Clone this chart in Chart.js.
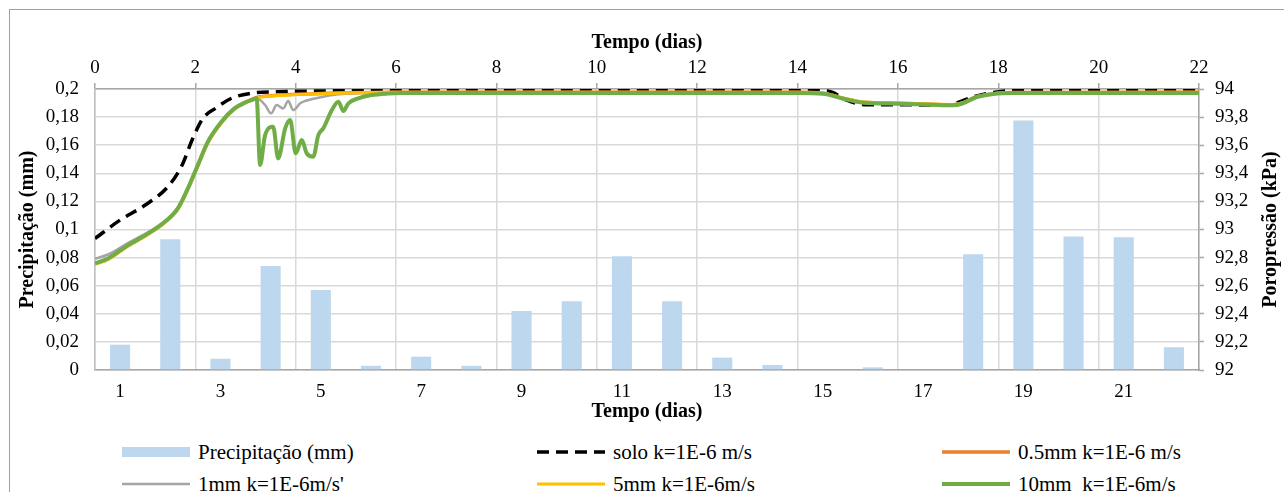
<!DOCTYPE html>
<html><head><meta charset="utf-8">
<script src="https://cdn.jsdelivr.net/npm/chart.js@4.4.1/dist/chart.umd.min.js"></script>
<style>
html,body{margin:0;padding:0;background:#fff;width:1284px;height:492px;overflow:hidden;font-family:"Liberation Serif","Times New Roman",serif;}
#frame{position:absolute;left:9px;top:9px;width:1300px;height:520px;border-left:1.5px solid #a0a0a0;border-top:1.5px solid #a0a0a0;}
#c{position:absolute;left:0;top:0;}
.leg{position:absolute;display:flex;align-items:center;height:24px;font-size:21px;color:#000;white-space:pre;line-height:24px;}
.leg svg{margin-right:8px;}
</style></head><body>
<div id="frame"></div>
<canvas id="c" width="1284" height="430"></canvas>
<div id="legend"></div>
<script>
// ---- data ----
const dias = ['1','2','3','4','5','6','7','8','9','10','11','12','13','14','15','16','17','18','19','20','21','22'];
const precipitacao = [0.018,0.093,0.008,0.074,0.057,0.003,0.0095,0.003,0.042,0.049,0.081,0.049,0.0088,0.0036,0,0.0019,0,0.0823,0.1775,0.095,0.0944,0.0162];

const soloT = [0,0.5,1.0,1.45,1.72,1.95,2.15,2.4,2.72,3.1,3.6,4.5,6,10,14,14.6,14.98,15.2,15.41,16,16.6,17.0,17.24,17.45,17.67,17.9,18.17,19,22];
const soloP = [92.936,93.067,93.174,93.304,93.447,93.649,93.791,93.862,93.934,93.969,93.98,93.986,93.99,93.99,93.99,93.985,93.92,93.895,93.888,93.888,93.886,93.886,93.91,93.938,93.959,93.975,93.986,93.99,93.99];

const m05T = [0,0.26,0.66,1.06,1.39,1.65,1.85,2.05,2.25,2.52,2.78,3.0,3.15,3.22,3.5,4,4.5,5,6,10,14,14.51,14.91,15.31,15.98,16.64,17.1,17.27,17.57,17.9,18.3,22];
const m05P = [92.755,92.79,92.886,92.97,93.053,93.148,93.29,93.457,93.623,93.765,93.862,93.907,93.93,93.94,93.952,93.962,93.968,93.973,93.977,93.977,93.977,93.97,93.934,93.906,93.899,93.892,93.888,93.899,93.945,93.967,93.975,93.977];

const m1T = [0,0.26,0.66,1.06,1.39,1.65,1.85,2.05,2.25,2.52,2.78,3.0,3.15,3.22,3.39,3.51,3.62,3.75,3.85,3.95,4.09,4.18,4.45,4.85,5.3,6,10,14,14.51,14.91,15.31,15.98,16.64,17.1,17.27,17.57,17.9,18.3,22];
const m1P = [92.792,92.822,92.905,92.982,93.058,93.15,93.292,93.459,93.625,93.767,93.862,93.905,93.925,93.934,93.886,93.827,93.886,93.862,93.914,93.85,93.898,93.914,93.938,93.962,93.972,93.976,93.976,93.976,93.968,93.932,93.903,93.896,93.889,93.885,93.896,93.944,93.966,93.974,93.976];

const m5T = [0,0.26,0.66,1.06,1.39,1.65,1.85,2.05,2.25,2.52,2.78,3.0,3.15,3.22,3.5,4,4.5,5,6,10,14,14.51,14.91,15.31,15.98,16.64,17.1,17.27,17.57,17.9,18.3,22];
const m5P = [92.752,92.787,92.882,92.965,93.047,93.142,93.283,93.45,93.615,93.758,93.856,93.903,93.927,93.937,93.95,93.96,93.967,93.972,93.976,93.976,93.976,93.97,93.936,93.908,93.901,93.894,93.89,93.9,93.946,93.967,93.975,93.976];

const m10T = [0,0.26,0.66,1.06,1.39,1.65,1.85,2.05,2.25,2.52,2.78,3.0,3.15,3.22,3.29,3.39,3.55,3.65,3.79,3.89,4.0,4.12,4.22,4.35,4.45,4.55,4.72,4.85,4.95,5.05,5.25,5.51,5.85,6.1,7,10,14,14.51,14.91,15.31,15.98,16.64,17.1,17.27,17.57,17.9,18.3,19,22];
const m10P = [92.758,92.794,92.889,92.972,93.055,93.15,93.292,93.459,93.625,93.767,93.862,93.905,93.925,93.934,93.459,93.672,93.732,93.506,93.72,93.779,93.542,93.637,93.542,93.518,93.672,93.72,93.85,93.91,93.843,93.898,93.934,93.957,93.968,93.971,93.972,93.972,93.972,93.967,93.931,93.902,93.895,93.888,93.884,93.895,93.943,93.965,93.972,93.972,93.972];

const seriesNames = ['Precipitação (mm)','solo k=1E-6 m/s','0.5mm k=1E-6 m/s',"1mm k=1E-6m/s'",'5mm k=1E-6m/s','10mm  k=1E-6m/s'];

// ---- chart ----
const pts = (T,P) => T.map((t,i)=>({x:t,y:P[i]}));
const FAM = '"Liberation Serif","Times New Roman",serif';
const titleFont = {family:FAM, size:20, weight:'bold'};
const tickFont = {family:FAM, size:19};
const fmt = v => String(parseFloat(Number(v).toFixed(3))).replace('.', ',');

function lineDs(label, T, P, color, width, order, dash){
  return {type:'line', label, data:pts(T,P), xAxisID:'xt', yAxisID:'yr', borderColor:color, backgroundColor:color,
    borderWidth:width, pointRadius:0, cubicInterpolationMode:'monotone', borderDash:dash||[], borderCapStyle:'butt', order, fill:false};
}

const rightTitle = {
  id:'rightTitle',
  afterDraw(chart){
    const s = chart.scales.yr; const t = s.options.title; const ctx = chart.ctx;
    ctx.save();
    ctx.translate(s.right - 13, (s.top + s.bottom)/2);
    ctx.rotate(-Math.PI/2);
    ctx.font = 'bold 20px ' + FAM;
    ctx.fillStyle = '#000'; ctx.textAlign = 'center'; ctx.textBaseline = 'middle';
    ctx.fillText(t.text, 0, 0);
    ctx.restore();
  }
};

const chart = new Chart(document.getElementById('c'), {
  type:'bar',
  data:{
    labels: dias,
    datasets:[
      {type:'bar', label:seriesNames[0], data:precipitacao, xAxisID:'xb', yAxisID:'yl', backgroundColor:'#bdd7ee', borderWidth:0, barPercentage:0.4, categoryPercentage:1.0, grouped:false, order:6},
      lineDs(seriesNames[1], soloT, soloP, '#000000', 3.5, 5, [12,7]),
      lineDs(seriesNames[2], m05T, m05P, '#ed7d31', 3.5, 4),
      lineDs(seriesNames[3], m1T, m1P, '#a5a5a5', 2.5, 3),
      lineDs(seriesNames[4], m5T, m5P, '#ffc000', 3, 2),
      lineDs(seriesNames[5], m10T, m10P, '#70ad47', 4, 1)
    ]
  },
  options:{
    responsive:false, animation:false,
    layout:{padding:0},
    plugins:{legend:{display:false}, tooltip:{enabled:false}},
    scales:{
      xt:{type:'linear', position:'top', min:0, max:22, offset:false,
        ticks:{stepSize:2, font:tickFont, color:'#000', padding:4, maxRotation:0, callback:v=>String(v)},
        grid:{offset:false, color:'#d9d9d9', lineWidth:1.5, tickLength:6, tickColor:'#a6a6a6', tickWidth:1.5},
        border:{display:true, color:'#a6a6a6', width:1.5},
        title:{display:true, text:'Tempo (dias)', font:titleFont, color:'#000', padding:{top:31,bottom:0}},
        afterFit:s=>{s.height=89;}},
      xb:{type:'category', position:'bottom', offset:true,
        grid:{display:false, drawTicks:false},
        border:{display:true, color:'#a6a6a6', width:1.5},
        ticks:{autoSkip:false, maxRotation:0, font:tickFont, color:'#000', padding:11, callback:(v,i)=> i%2===0 ? dias[i] : ''},
        title:{display:true, text:'Tempo (dias)', font:titleFont, color:'#000', padding:{top:0,bottom:6}},
        afterFit:s=>{s.height=60;}},
      yl:{type:'linear', position:'left', min:0, max:0.2,
        ticks:{stepSize:0.02, font:tickFont, color:'#000', padding:16, callback:fmt},
        grid:{color:'#d9d9d9', lineWidth:1.5, drawTicks:false},
        border:{display:true, color:'#bfbfbf', width:1.5},
        title:{display:true, text:'Precipitação (mm)', font:titleFont, color:'#000', padding:{top:16,bottom:0}},
        afterFit:s=>{s.width=95;}},
      yr:{type:'linear', position:'right', min:92, max:94,
        ticks:{stepSize:0.2, font:tickFont, color:'#000', padding:11, callback:fmt},
        grid:{drawOnChartArea:false, tickLength:5, tickColor:'#a6a6a6', tickWidth:1.5},
        border:{display:true, color:'#a6a6a6', width:1.5},
        title:{display:false, text:'Poropressão (kPa)', font:titleFont},
        afterFit:s=>{s.width=85;}}
    }
  },
  plugins:[rightTitle]
});

// ---- HTML legend built from the chart datasets ----
const legX = [122, 537, 942];
const legY = [440, 472];
const legend = document.getElementById('legend');
chart.data.datasets.forEach((ds, i) => {
  const col = i % 3, row = Math.floor(i / 3);
  const d = document.createElement('div');
  d.className = 'leg';
  d.style.left = legX[col] + 'px';
  d.style.top = legY[row] + 'px';
  const ns = 'http://www.w3.org/2000/svg';
  const svg = document.createElementNS(ns, 'svg');
  svg.setAttribute('width', '68'); svg.setAttribute('height', '14');
  if (ds.type === 'bar') {
    const r = document.createElementNS(ns, 'rect');
    r.setAttribute('x', '0'); r.setAttribute('y', '2'); r.setAttribute('width', '68'); r.setAttribute('height', '10');
    r.setAttribute('fill', ds.backgroundColor);
    svg.appendChild(r);
  } else {
    const l = document.createElementNS(ns, 'line');
    l.setAttribute('x1', '0'); l.setAttribute('x2', '68'); l.setAttribute('y1', '7'); l.setAttribute('y2', '7');
    l.setAttribute('stroke', ds.borderColor); l.setAttribute('stroke-width', String(ds.borderWidth));
    if (ds.borderDash && ds.borderDash.length) l.setAttribute('stroke-dasharray', ds.borderDash.join(' '));
    svg.appendChild(l);
  }
  d.appendChild(svg);
  const span = document.createElement('span');
  span.textContent = ds.label;
  d.appendChild(span);
  legend.appendChild(d);
});
</script>
</body></html>
